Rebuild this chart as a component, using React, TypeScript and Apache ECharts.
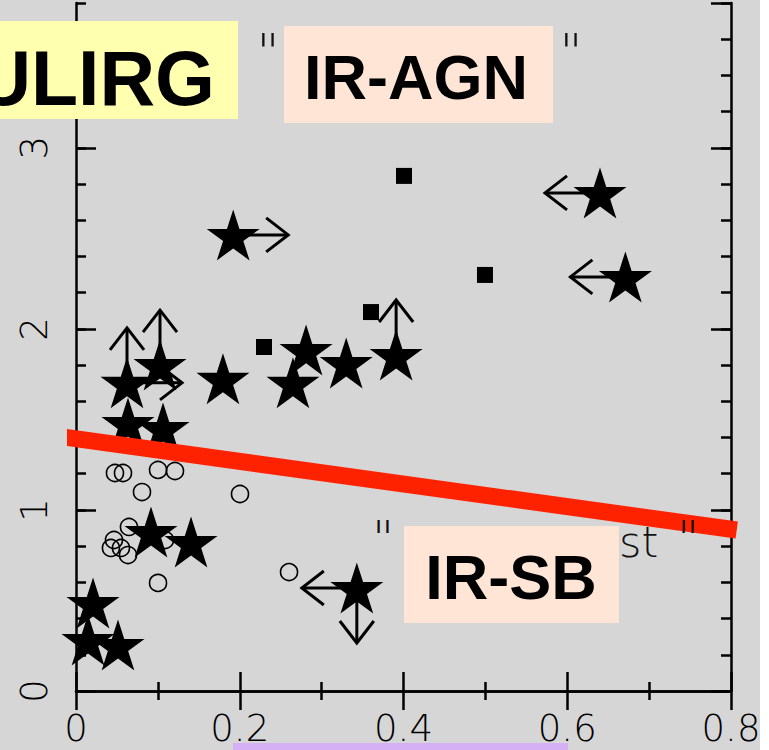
import React, { useEffect, useRef } from "react";
import * as echarts from "echarts";

// ---- data ----
const starX = [0.192, 0.64, 0.671, 0.0623, 0.1026, 0.0635, 0.1063, 0.1795, 0.265, 0.281, 0.33, 0.391, 0.0916, 0.1405, 0.343, 0.0208, 0.0147, 0.0513];
const starY = [2.519, 2.751, 2.287, 1.702, 1.8, 1.48, 1.453, 1.724, 1.702, 1.884, 1.812, 1.856, 0.878, 0.823, 0.569, 0.486, 0.282, 0.254];

const squareX = [0.4006, 0.4995, 0.3603, 0.2296];
const squareY = [2.845, 2.298, 2.093, 1.9];

const circleX = [0.0476, 0.0574, 0.1002, 0.1209, 0.0806, 0.0647, 0.0464, 0.0427, 0.0635, 0.0549, 0.1087, 0.1002, 0.2003, 0.2602];
const circleY = [1.204, 1.204, 1.221, 1.215, 1.099, 0.906, 0.834, 0.79, 0.751, 0.79, 0.834, 0.597, 1.088, 0.657];

// limit arrows: origin (x, y) and direction in degrees (0 right, 90 up, 180 left, 270 down)
const arrowX = [0.192, 0.64, 0.671, 0.0623, 0.0623, 0.1026, 0.391, 0.343, 0.343];
const arrowY = [2.519, 2.751, 2.287, 1.702, 1.702, 1.8, 1.856, 0.569, 0.569];
const arrowDir = [0, 180, 180, 90, 0, 90, 90, 180, 270];

const lineX = [-0.0159, 0.807];
const lineY = [1.403, 0.889];

const xTickLabels = ["0", "0.2", "0.4", "0.6", "0.8"];
const yTickLabels = ["0", "1", "2", "3"];

const STAR_PATH =
  "path://M50 0 L61.23 34.55 L97.55 34.55 L68.17 55.9 L79.39 90.45 L50 69.1 L20.61 90.45 L31.83 55.9 L2.45 34.55 L38.77 34.55 Z";

export default function App() {
  const ref = useRef<HTMLDivElement>(null);

  useEffect(() => {
    if (!ref.current) return;
    const chart = echarts.init(ref.current, undefined, { renderer: "svg" });

    const black = "#000";
    const axisLine = { show: true, lineStyle: { color: black, width: 2.5 } };
    const labelFont = {
      fontFamily: "DejaVu Sans",
      fontWeight: 200 as any,
      fontSize: 37,
      color: black,
    };
    const majorTick = (len: number) => ({
      show: true,
      inside: true,
      length: len,
      lineStyle: { color: black, width: 2.5 },
    });

    const xBase = {
      type: "value" as const,
      min: 0,
      max: 0.8,
      interval: 0.2,
      axisLine,
      axisTick: majorTick(19),
      minorTick: { show: true, splitNumber: 2, length: 9, lineStyle: { color: black, width: 2.5 } },
      splitLine: { show: false },
      minorSplitLine: { show: false },
    };

    const yMajor = {
      type: "value" as const,
      min: 0,
      max: 3.8,
      interval: 1,
      axisLine,
      axisTick: majorTick(20),
      splitLine: { show: false },
    };
    const yMinor = {
      type: "value" as const,
      min: 0,
      max: 3.8,
      interval: 0.2,
      axisLine: { show: false },
      axisTick: majorTick(10),
      axisLabel: { show: false },
      splitLine: { show: false },
    };

    const option: any = {
      animation: false,
      backgroundColor: "#d6d6d6",
      grid: { left: 76, right: 38, top: 3, bottom: 59 },
      xAxis: [
        {
          ...xBase,
          position: "bottom",
          axisLabel: {
            ...labelFont,
            margin: 19,
            formatter: (v: number) => xTickLabels[Math.round(v / 0.2)] ?? "",
          },
        },
        { ...xBase, position: "top", axisLabel: { show: false } },
      ],
      yAxis: [
        {
          ...yMajor,
          position: "left",
          axisLabel: {
            ...labelFont,
            rotate: 90,
            margin: 23,
            showMaxLabel: false,
            formatter: (v: number) => (Number.isInteger(v) ? yTickLabels[v] ?? "" : ""),
          },
        },
        { ...yMinor, position: "left" },
        { ...yMajor, position: "right", axisLabel: { show: false } },
        { ...yMinor, position: "right" },
      ],
      series: [
        {
          type: "scatter",
          xAxisIndex: 0,
          yAxisIndex: 0,
          symbol: "circle",
          symbolSize: 17,
          itemStyle: { color: "rgba(0,0,0,0)", borderColor: black, borderWidth: 1.6, opacity: 1 },
          data: circleX.map((x, i) => [x, circleY[i]]),
          z: 2,
        },
        {
          type: "scatter",
          xAxisIndex: 0,
          yAxisIndex: 0,
          symbol: "rect",
          symbolSize: 16,
          itemStyle: { color: black, opacity: 1 },
          data: squareX.map((x, i) => [x, squareY[i]]),
          z: 3,
        },
        {
          type: "custom",
          xAxisIndex: 0,
          yAxisIndex: 0,
          z: 4,
          data: arrowX.map((x, i) => [x, arrowY[i], arrowDir[i]]),
          encode: { x: 0, y: 1 },
          renderItem: (_params: any, api: any) => {
            const p = api.coord([api.value(0), api.value(1)]);
            const a = (api.value(2) * Math.PI) / 180;
            const dx = Math.cos(a);
            const dy = -Math.sin(a);
            const L = 55;
            const tx = p[0] + dx * L;
            const ty = p[1] + dy * L;
            const back = 22;
            const side = 17;
            const bx = tx - dx * back;
            const by = ty - dy * back;
            const nx = -dy;
            const ny = dx;
            return {
              type: "group",
              children: [
                {
                  type: "line",
                  shape: { x1: p[0], y1: p[1], x2: tx, y2: ty },
                  style: { stroke: black, lineWidth: 3 },
                },
                {
                  type: "polyline",
                  shape: {
                    points: [
                      [bx + nx * side, by + ny * side],
                      [tx, ty],
                      [bx - nx * side, by - ny * side],
                    ],
                  },
                  style: { stroke: black, fill: null, lineWidth: 3 },
                },
              ],
            };
          },
        },
        {
          type: "scatter",
          xAxisIndex: 0,
          yAxisIndex: 0,
          symbol: STAR_PATH,
          symbolSize: [53, 51],
          itemStyle: { color: black, opacity: 1 },
          data: starX.map((x, i) => [x, starY[i]]),
          z: 5,
        },
        {
          type: "line",
          xAxisIndex: 0,
          yAxisIndex: 0,
          clip: false,
          symbol: "none",
          lineStyle: { color: "#ff2200", width: 17, cap: "butt", opacity: 1 },
          data: lineX.map((x, i) => [x, lineY[i]]),
          z: 10,
        },
      ],
      graphic: [
        // remnants of the original thin labels, partly hidden by the boxes
        {
          type: "text", x: 268, y: 52, z: 50,
          style: { text: '"', fontFamily: "DejaVu Sans", fontWeight: 200, fontSize: 50, fill: "#111", align: "center", verticalAlign: "middle" },
        },
        {
          type: "text", x: 571, y: 52, z: 50,
          style: { text: '"', fontFamily: "DejaVu Sans", fontWeight: 200, fontSize: 50, fill: "#111", align: "center", verticalAlign: "middle" },
        },
        {
          type: "text", x: 383, y: 538, z: 50,
          style: { text: '"', fontFamily: "DejaVu Sans", fontWeight: 200, fontSize: 48, fill: "#111", align: "center", verticalAlign: "middle" },
        },
        {
          type: "text", x: 619, y: 563, z: 50,
          style: { text: 'st', fontFamily: "DejaVu Sans", fontWeight: 200, fontSize: 43, fill: "#111", align: "left", verticalAlign: "bottom" },
        },
        {
          type: "text", x: 688, y: 538, z: 50,
          style: { text: '"', fontFamily: "DejaVu Sans", fontWeight: 200, fontSize: 48, fill: "#111", align: "center", verticalAlign: "middle" },
        },
        // boxes
        { type: "rect", z: 100, shape: { x: 0, y: 21, width: 238, height: 98 }, style: { fill: "#ffffb0" } },
        {
          type: "text", x: 215, y: 78, z: 101,
          style: { text: "ULIRG", fontFamily: "Liberation Sans", fontWeight: "bold", fontSize: 77, fill: black, align: "right", verticalAlign: "middle" },
        },
        { type: "rect", z: 100, shape: { x: 284, y: 26, width: 269, height: 97 }, style: { fill: "#ffe5d6" } },
        {
          type: "text", x: 416, y: 77, z: 101,
          style: { text: "IR-AGN", fontFamily: "Liberation Sans", fontWeight: "bold", fontSize: 63, fill: black, align: "center", verticalAlign: "middle" },
        },
        { type: "rect", z: 100, shape: { x: 404, y: 526, width: 215, height: 97 }, style: { fill: "#ffe5d6" } },
        {
          type: "text", x: 511, y: 577, z: 101,
          style: { text: "IR-SB", fontFamily: "Liberation Sans", fontWeight: "bold", fontSize: 63, fill: black, align: "center", verticalAlign: "middle" },
        },
        // page edges
        { type: "rect", z: 100, shape: { x: 760, y: 0, width: 9, height: 750 }, style: { fill: "#ffffff" } },
        { type: "rect", z: 100, shape: { x: 233, y: 743, width: 335, height: 7 }, style: { fill: "#d6b0f5" } },
      ],
    };

    chart.setOption(option);
    return () => chart.dispose();
  }, []);

  return (
    <div
      ref={ref}
      style={{ position: "fixed", left: 0, top: 0, width: 769, height: 750 }}
    />
  );
}
